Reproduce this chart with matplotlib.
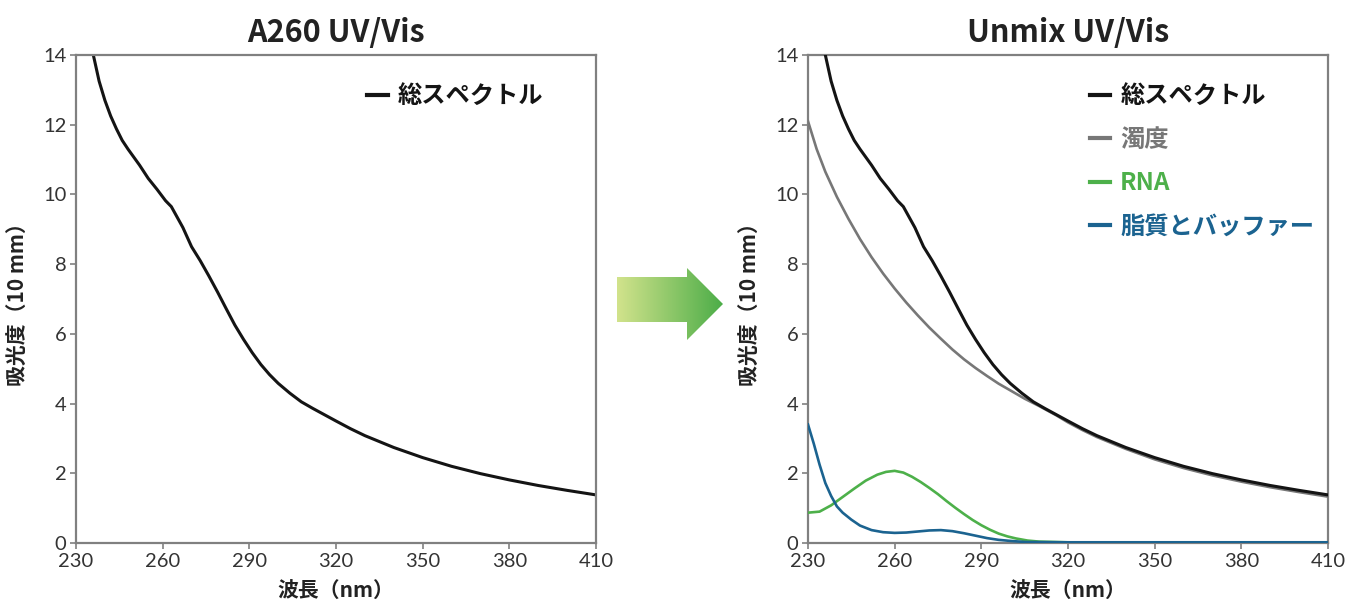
import numpy as np
import matplotlib
matplotlib.use("Agg")
import matplotlib.pyplot as plt
from matplotlib.patches import Polygon

plt.rcParams['font.family'] = ['Noto Sans CJK JP', 'DejaVu Sans']

# total spectrum (same measurement in both panels)
total_wl = [236, 238, 240, 242, 244, 246, 248, 250, 252, 255, 258, 261, 263, 265, 267,
            270, 273, 276, 279, 282, 285, 288, 291, 294, 297, 300, 304, 308, 312, 316,
            320, 325, 330, 340, 350, 360, 370, 380, 390, 400, 410]
total_abs = [14.0, 13.25, 12.7, 12.25, 11.88, 11.55, 11.3, 11.07, 10.84, 10.46, 10.15, 9.82,
             9.65, 9.35, 9.05, 8.5, 8.1, 7.66, 7.2, 6.72, 6.25, 5.84, 5.46, 5.12, 4.83, 4.58,
             4.3, 4.05, 3.86, 3.68, 3.5, 3.28, 3.08, 2.74, 2.45, 2.2, 1.99, 1.81, 1.65, 1.51, 1.38]

# unmixed components
turb_wl = [230, 233, 236, 240, 244, 248, 252, 256, 260, 264, 268, 272, 276, 280, 284, 288,
           292, 296, 300, 305, 310, 316, 320, 325, 330, 340, 350, 360, 370, 380, 390, 400, 410]
turb_abs = [12.1, 11.3, 10.65, 9.93, 9.3, 8.72, 8.2, 7.73, 7.3, 6.9, 6.53, 6.18, 5.86, 5.55,
            5.27, 5.02, 4.79, 4.57, 4.38, 4.14, 3.93, 3.66, 3.46, 3.24, 3.04, 2.7, 2.4, 2.15,
            1.94, 1.76, 1.6, 1.46, 1.33]

rna_wl = [230, 234, 238, 242, 246, 250, 254, 257, 260, 263, 266, 269, 272, 275, 278, 281, 284,
          287, 290, 293, 296, 299, 302, 306, 310, 320, 340, 410]
rna_abs = [0.87, 0.9, 1.08, 1.32, 1.56, 1.79, 1.96, 2.04, 2.07, 2.02, 1.9, 1.75, 1.58, 1.4,
           1.2, 1.01, 0.83, 0.66, 0.51, 0.38, 0.27, 0.19, 0.13, 0.07, 0.04, 0.02, 0.02, 0.02]

lipid_wl = [230, 232, 234, 236, 238, 240, 242, 245, 248, 252, 256, 260, 264, 268, 272, 276,
            280, 284, 288, 292, 296, 300, 305, 320, 410]
lipid_abs = [3.4, 2.85, 2.25, 1.72, 1.35, 1.05, 0.87, 0.67, 0.5, 0.37, 0.31, 0.29, 0.3, 0.33,
             0.36, 0.37, 0.34, 0.28, 0.21, 0.14, 0.09, 0.06, 0.03, 0.02, 0.02]

xticks = [230, 260, 290, 320, 350, 380, 410]
yticks = [0, 2, 4, 6, 8, 10, 12, 14]

c_total = "#141414"
c_turb = "#777777"
c_rna = "#4db04a"
c_lipid = "#1b6390"
c_frame = "#808080"

W, H = 1350, 605
fig = plt.figure(figsize=(W / 100, H / 100), dpi=100)


def px_axes(x0, y0, x1, y1):
    # axes placed by pixel box (top-left origin)
    return fig.add_axes([x0 / W, 1 - y1 / H, (x1 - x0) / W, (y1 - y0) / H])


def style(ax, title):
    ax.set_xlim(230, 410)
    ax.set_ylim(0, 14)
    ax.set_xticks(xticks)
    ax.set_yticks(yticks)
    for s in ax.spines.values():
        s.set_color(c_frame)
        s.set_linewidth(1.6)
    ax.tick_params(direction="out", length=4, width=1.2, color=c_frame,
                   labelsize=14.5, labelcolor="#333333", pad=3)
    for lab in ax.get_xticklabels() + ax.get_yticklabels():
        lab.set_family(["Lato", "Noto Sans CJK JP"])
        lab.set_fontweight("normal")
    ax.set_title(title, fontsize=22, fontweight="bold", color="#222222", pad=9)
    ax.set_xlabel("波長（nm）", fontsize=15, fontweight="bold", color="#222222", labelpad=8)
    ax.set_ylabel("吸光度（10 mm）", fontsize=15, fontweight="bold", color="#222222", labelpad=10)


ax1 = px_axes(76, 55, 596, 543)
ax1.plot(total_wl, total_abs, color=c_total, lw=2.2, label="総スペクトル")
style(ax1, "A260 UV/Vis")
leg1 = ax1.legend(loc="upper left", bbox_to_anchor=(0.56, 0.94), frameon=False,
                  prop={"weight": "bold", "size": 17.5}, labelcolor="linecolor",
                  handlelength=0.85, handletextpad=0.4, borderpad=0, borderaxespad=0)

ax2 = px_axes(808, 55, 1328, 543)
ax2.plot(total_wl, total_abs, color=c_total, lw=2.2, label="総スペクトル", zorder=4)
ax2.plot(turb_wl, turb_abs, color=c_turb, lw=1.9, label="濁度", zorder=3)
ax2.plot(rna_wl, rna_abs, color=c_rna, lw=1.9, label="RNA", zorder=3)
ax2.plot(lipid_wl, lipid_abs, color=c_lipid, lw=1.9, label="脂質とバッファー", zorder=3)
style(ax2, "Unmix UV/Vis")
leg2 = ax2.legend(loc="upper left", bbox_to_anchor=(0.542, 0.94), frameon=False,
                  prop={"weight": "bold", "size": 17.5}, labelcolor="linecolor",
                  handlelength=0.85, handletextpad=0.4, labelspacing=0.8,
                  borderpad=0, borderaxespad=0)
for leg in (leg1, leg2):
    for h in leg.get_lines():
        h.set_linewidth(3)

# gradient arrow between the panels
axa = px_axes(610, 260, 730, 350)
axa.set_xlim(610, 730)
axa.set_ylim(350, 260)
axa.axis("off")
arrow = Polygon([(617, 277), (687, 277), (687, 268), (723, 304), (687, 340),
                 (687, 322), (617, 322)], closed=True, facecolor="none", edgecolor="none")
axa.add_patch(arrow)
grad = np.linspace(0, 1, 256).reshape(1, -1)
cmap = matplotlib.colors.LinearSegmentedColormap.from_list("g", ["#d2e38c", "#4cad48"])
im = axa.imshow(grad, cmap=cmap, aspect="auto", extent=(617, 723, 340, 268))
im.set_clip_path(arrow)

fig.savefig("out.png", dpi=100)
